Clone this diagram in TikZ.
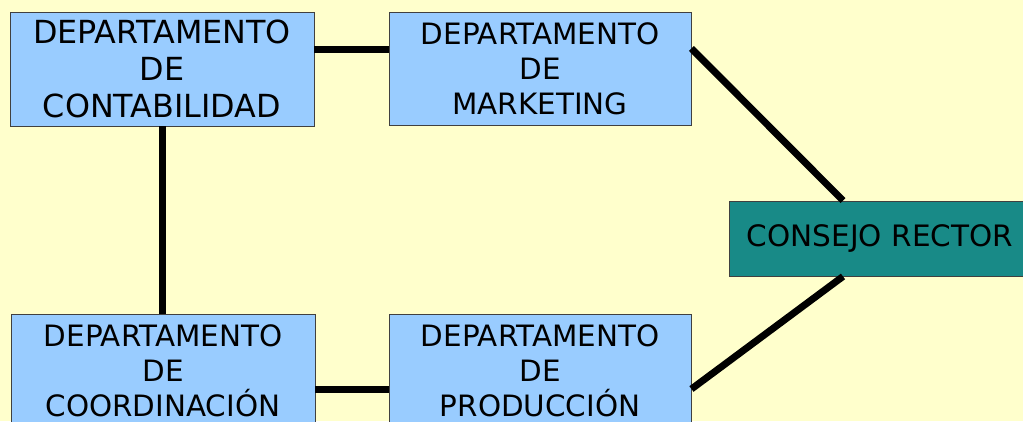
\documentclass[tikz,border=0pt]{standalone}
\usepackage{fontspec}
\setmainfont{DejaVu Sans}
\definecolor{bgyellow}{HTML}{FFFFCC}
\definecolor{boxblue}{HTML}{99CCFF}
\definecolor{teal2}{HTML}{188A87}
\begin{document}
\begin{tikzpicture}[x=1pt,y=-1pt,
  dept/.style={draw=black!75,line width=0.9pt,fill=boxblue,rectangle,inner sep=0pt,
    align=center,font=\fontsize{29.4}{35}\selectfont},
  link/.style={line width=7pt,black}]
\useasboundingbox (0,0) rectangle (1023,421);
\fill[bgyellow] (0,0) rectangle (1023,421);
\begin{scope}
\clip (0,0) rectangle (1023,421);
\node[dept,minimum width=304pt,minimum height=114pt,font=\fontsize{31.8}{37}\selectfont] (A) at (162,69) {DEPARTAMENTO\\DE\\CONTABILIDAD};
\node[dept,minimum width=302pt,minimum height=113pt] (B) at (540,68.5) {DEPARTAMENTO\\DE\\MARKETING};
\node[dept,minimum width=304pt,minimum height=114pt] (D) at (163,371) {DEPARTAMENTO\\DE\\COORDINACIÓN};
\node[dept,minimum width=302pt,minimum height=114pt] (E) at (540,371) {DEPARTAMENTO\\DE\\PRODUCCIÓN};
\node[dept,fill=teal2,minimum width=302pt,minimum height=75pt,font=\fontsize{29.5}{34}\selectfont] (C) at (880,238.5) {CONSEJO RECTOR};
\draw[link] ([yshift=19.5pt]A.east) -- ([yshift=19.5pt]A.east -| B.west);
\draw[link] (A.south) -- (A.south |- D.north);
\draw[link] ([yshift=-18pt]D.east) -- ([yshift=-18pt]D.east -| E.west);
\draw[link] ([yshift=20pt]B.east) -- ([xshift=-37pt]C.north);
\draw[link] ([yshift=-18pt]E.east) -- ([xshift=-37pt]C.south);
\end{scope}
\end{tikzpicture}
\end{document}
